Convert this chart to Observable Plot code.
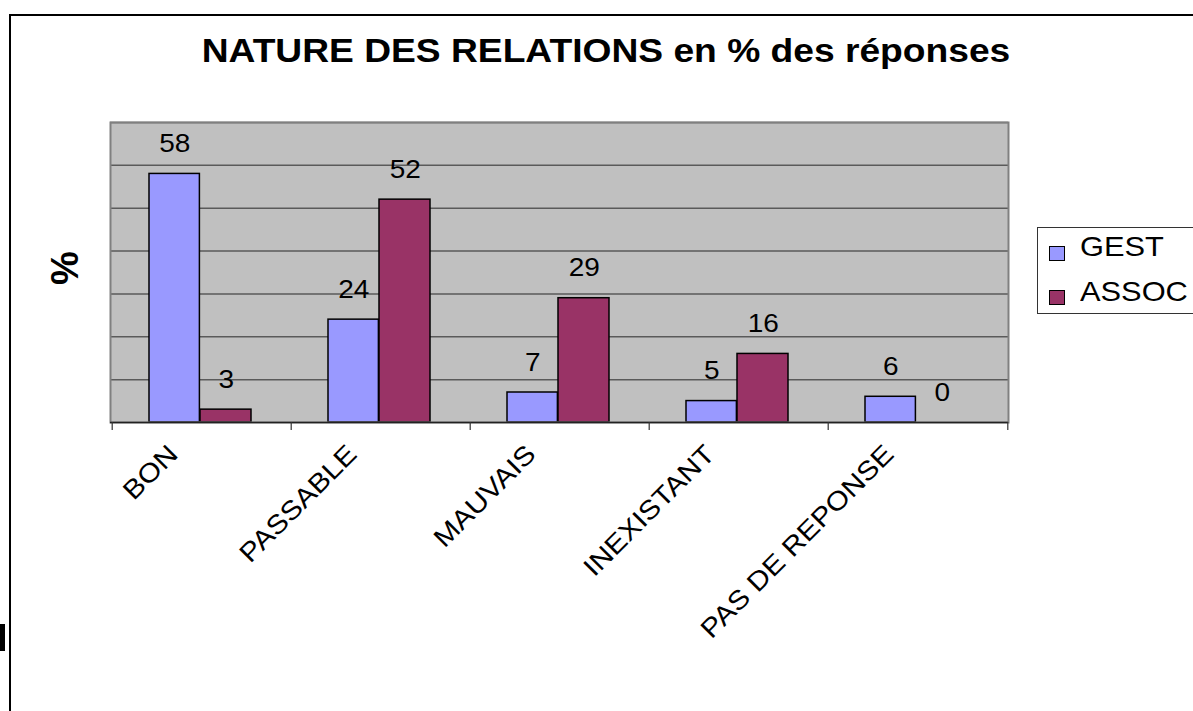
<!DOCTYPE html>
<html>
<head>
<meta charset="utf-8">
<script src="https://cdn.jsdelivr.net/npm/d3@7"></script>
<script src="https://cdn.jsdelivr.net/npm/@observablehq/plot@0.6"></script>
<style>
  html, body { margin: 0; padding: 0; background: #fff; }
  #wrap { position: relative; width: 1193px; height: 711px; overflow: hidden; font-family: "Liberation Sans", Arial, sans-serif; }
  #chart { position: absolute; left: 0; top: 0; }
  .abs { position: absolute; white-space: nowrap; }
</style>
</head>
<body>
<div id="wrap">
  <div id="chart"></div>
  <div class="abs" style="left:10px;top:14px;width:1183px;height:2px;background:#000;"></div>
  <div class="abs" style="left:9px;top:14px;width:2px;height:697px;background:#000;"></div>
  <div class="abs" style="left:0px;top:624px;width:5px;height:27px;background:#000;"></div>
  <div id="title" class="abs" style="left:606px;top:33.6px;font-size:33.5px;line-height:1;font-weight:bold;color:#000;transform:translateX(-50%) scaleX(1.11);transform-origin:50% 0;"></div>
  <div id="ylab" class="abs" style="left:65px;top:268px;font-size:38px;line-height:1;font-weight:bold;transform:translate(-50%,-50%) rotate(-90deg);"></div>
  <div id="legend" class="abs" style="left:1037px;top:227px;width:170px;height:87px;border:1px solid #333;background:#fff;box-sizing:border-box;"></div>
</div>
<script>
// ---- data ----
const categories = ["BON", "PASSABLE", "MAUVAIS", "INEXISTANT", "PAS DE REPONSE"];
const seriesNames = ["GEST", "ASSOC"];
const gestValues = [58, 24, 7, 5, 6];
const assocValues = [3, 52, 29, 16, 0];
const gridValues = [10, 20, 30, 40, 50, 60, 70];
const yDomain = [0, 70];
const seriesColors = ["#9999ff", "#993366"];
const titleText = "NATURE DES RELATIONS en % des réponses";
const yLabel = "%";

const rows = categories.flatMap((c, i) => [
  {cat: c, series: "GEST", value: gestValues[i]},
  {cat: c, series: "ASSOC", value: assocValues[i]}
]);
const gestRows = rows.filter(d => d.series === "GEST");
const assocRows = rows.filter(d => d.series === "ASSOC");

// ---- layout ----
const W = 1193, H = 711;
const mL = 110, mR = 185, mT = 122, mB = 289;
const bw = (W - mL - mR) / categories.length;
const barW = 51;
const gestInL = 37, assocInR = 40;

const chart = Plot.plot({
  width: W, height: H,
  marginLeft: mL, marginRight: mR, marginTop: mT, marginBottom: mB,
  style: {background: "transparent", fontFamily: "Liberation Sans, Arial, sans-serif", overflow: "visible"},
  x: {domain: categories, padding: 0, axis: null},
  y: {domain: yDomain, axis: null},
  color: {domain: seriesNames, range: seriesColors},
  marks: [
    Plot.frame({fill: "#c0c0c0", stroke: null}),
    Plot.ruleY(gridValues, {stroke: "#5a5a5a", strokeWidth: 1.5}),
    Plot.barY(gestRows, {x: "cat", y: "value", fill: "series", stroke: "#000", strokeWidth: 1.5,
      insetLeft: gestInL, insetRight: bw - gestInL - barW}),
    Plot.barY(assocRows, {x: "cat", y: "value", fill: "series", stroke: "#000", strokeWidth: 1.5,
      insetLeft: gestInL + barW, insetRight: assocInR, filter: d => d.value > 0}),
    Plot.frame({stroke: "#808080", strokeWidth: 2}),
    Plot.ruleY([0], {stroke: "#222", strokeWidth: 1.5}),
    Plot.ruleX(categories, {y1: 0, y2: 0, insetBottom: -8, dx: -bw / 2, stroke: "#333", strokeWidth: 1.2}),
    Plot.ruleX(categories.slice(-1), {y1: 0, y2: 0, insetBottom: -8, dx: bw / 2, stroke: "#333", strokeWidth: 1.2}),
    Plot.text(gestRows, {x: "cat", y: "value", text: d => String(d.value), dy: -30, dx: -(bw / 2 - gestInL - barW / 2), fontSize: 25, fill: "#000"}),
    Plot.text(assocRows, {x: "cat", y: "value", text: d => String(d.value), dy: -30, dx: (bw / 2 - assocInR - barW / 2), fontSize: 25, fill: "#000"}),
    Plot.text(categories, {x: d => d, text: d => d, frameAnchor: "bottom", rotate: -45, textAnchor: "end", lineAnchor: "top", dx: -36, dy: 20, fontSize: 26.5, fill: "#000"})
  ]
});
document.getElementById("chart").appendChild(chart);

// widen glyphs slightly along baseline to match reference font rendering
chart.querySelectorAll('g[aria-label="text"] text').forEach(t => {
  const tr = t.getAttribute("transform");
  if (tr) t.setAttribute("transform", tr + " scale(1.12,1)");
});

document.getElementById("title").textContent = titleText;
document.getElementById("ylab").textContent = yLabel;

// legend
const legend = document.getElementById("legend");
seriesNames.forEach((s, i) => {
  const sw = document.createElement("div");
  sw.className = "abs";
  sw.style.cssText = `left:11px;top:${18 + i * 44}px;width:16px;height:15px;border:1.5px solid #000;background:${seriesColors[i]};box-sizing:border-box;`;
  legend.appendChild(sw);
  const tx = document.createElement("div");
  tx.className = "abs";
  tx.textContent = s;
  tx.style.cssText = `left:42px;top:${5 + i * 44.5}px;font-size:28px;line-height:1;color:#000;transform:scaleX(1.1);transform-origin:0 0;`;
  legend.appendChild(tx);
});
</script>
</body>
</html>
